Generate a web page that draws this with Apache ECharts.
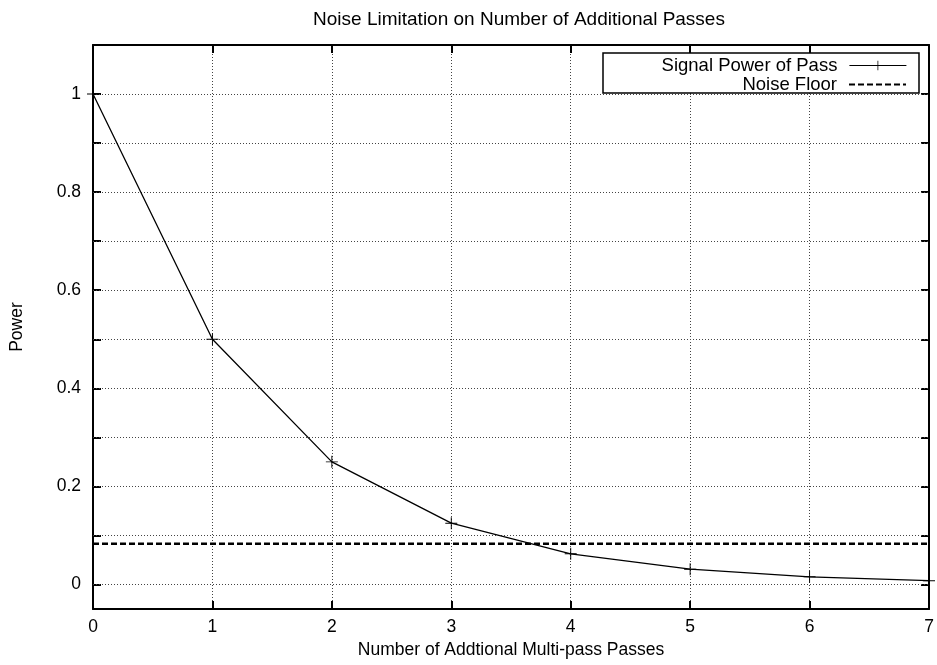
<!DOCTYPE html>
<html><head><meta charset="utf-8">
<script src="https://cdn.jsdelivr.net/npm/echarts@6/dist/echarts.min.js"></script>
<style>html,body{margin:0;padding:0;background:#fff}#c{width:937px;height:665px}</style>
</head><body><div id="c"></div>
<script>
const passes = [0, 1, 2, 3, 4, 5, 6, 7];
const signalPower = [1, 0.5, 0.25, 0.125, 0.0625, 0.03125, 0.015625, 0.0078125];
const noiseX = [0, 7];
const noiseFloor = [0.083, 0.083];
const yLabelValues = [0, 0.2, 0.4, 0.6, 0.8, 1];
const yTickValues = [0, 0.1, 0.2, 0.3, 0.4, 0.5, 0.6, 0.7, 0.8, 0.9, 1.0];

const FONT = 'Liberation Sans';
const plusPath = 'path://M0,4.6H10V5.4H0Z M4.6,0H5.4V10H4.6Z';
const chart = echarts.init(document.getElementById('c'), null, {renderer: 'canvas'});
const gridLine = {show: true, lineStyle: {color: '#444', type: [1, 2], width: 1}};
chart.setOption({
  animation: false,
  backgroundColor: '#fff',
  title: {text: 'Noise Limitation on Number of Additional Passes', left: 514, top: 5, textAlign: 'center',
    textStyle: {fontFamily: FONT, fontSize: 19, fontWeight: 'normal', color: '#000'}},
  grid: {left: 93, right: 8, top: 45, bottom: 56, containLabel: false, outerBoundsMode: 'none'},
  legend: [
    {data: ['Signal Power of Pass'], right: 30, top: 56, orient: 'vertical', align: 'right', itemWidth: 57, itemHeight: 12,
      lineStyle: {width: 1.2},
      textStyle: {fontFamily: FONT, fontSize: 18.5, color: '#000', padding: [0, 7, 0, 0]}, padding: 0, z: 6},
    {data: ['Noise Floor'], right: 30, top: 75, orient: 'vertical', align: 'right', itemWidth: 57, itemHeight: 12,
      itemStyle: {opacity: 0},
      textStyle: {fontFamily: FONT, fontSize: 18.5, color: '#000', padding: [0, 7, 0, 0]}, padding: 0, z: 6}
  ],
  graphic: [{type: 'rect', shape: {x: 603, y: 53, width: 316, height: 40}, style: {fill: '#fff', stroke: '#000', lineWidth: 1.5}, z: 3}],
  xAxis: [
    {type: 'value', min: 0, max: 7, interval: 1, name: 'Number of Addtional Multi-pass Passes', nameLocation: 'middle', nameGap: 31,
      nameTextStyle: {fontFamily: FONT, fontSize: 17.5, color: '#000'},
      axisLine: {show: true, onZero: false, lineStyle: {color: '#000', width: 2}},
      axisTick: {show: true, inside: true, length: 8, lineStyle: {color: '#000', width: 2}},
      axisLabel: {fontFamily: FONT, fontSize: 17.5, color: '#000', margin: 9},
      splitLine: gridLine},
    {type: 'value', position: 'top', min: 0, max: 7, interval: 1,
      axisLine: {show: true, onZero: false, lineStyle: {color: '#000', width: 2}},
      axisTick: {show: true, inside: true, length: 8, lineStyle: {color: '#000', width: 2}},
      axisLabel: {show: false}, splitLine: {show: false}}
  ],
  yAxis: [
    {type: 'value', min: -0.05, max: 1.1, name: 'Power', nameLocation: 'middle', nameGap: 67, nameRotate: 90,
      nameTextStyle: {fontFamily: FONT, fontSize: 17.5, color: '#000'},
      axisLine: {show: true, onZero: false, lineStyle: {color: '#000', width: 2}},
      axisTick: {show: true, inside: true, length: 8, customValues: yTickValues, lineStyle: {color: '#000', width: 2}},
      axisLabel: {fontFamily: FONT, fontSize: 17.5, color: '#000', margin: 12, customValues: yLabelValues},
      splitLine: {show: false}},
    {type: 'value', position: 'right', min: -0.05, max: 1.1,
      axisLine: {show: true, onZero: false, lineStyle: {color: '#000', width: 2}},
      axisTick: {show: true, inside: true, length: 8, customValues: yTickValues, lineStyle: {color: '#000', width: 2}},
      axisLabel: {show: false}, splitLine: {show: false}}
  ],
  series: [
    {name: 'Signal Power of Pass', type: 'line', data: passes.map((x, i) => [x, signalPower[i]]),
      symbol: plusPath, symbolSize: 12, showSymbol: true, color: '#000',
      lineStyle: {color: '#000', width: 1.3}, itemStyle: {color: '#000'}, z: 5,
      markLine: {silent: true, symbol: 'none', label: {show: false},
        lineStyle: {color: '#444', type: [1, 2], width: 1},
        data: yTickValues.map(v => ({yAxis: v}))}},
    {name: 'Noise Floor', type: 'line', data: noiseX.map((x, i) => [x, noiseFloor[i]]),
      symbol: 'none', color: '#000', lineStyle: {color: '#000', width: 2.5, type: [6, 3]}, z: 4}
  ]
});
</script></body></html>
